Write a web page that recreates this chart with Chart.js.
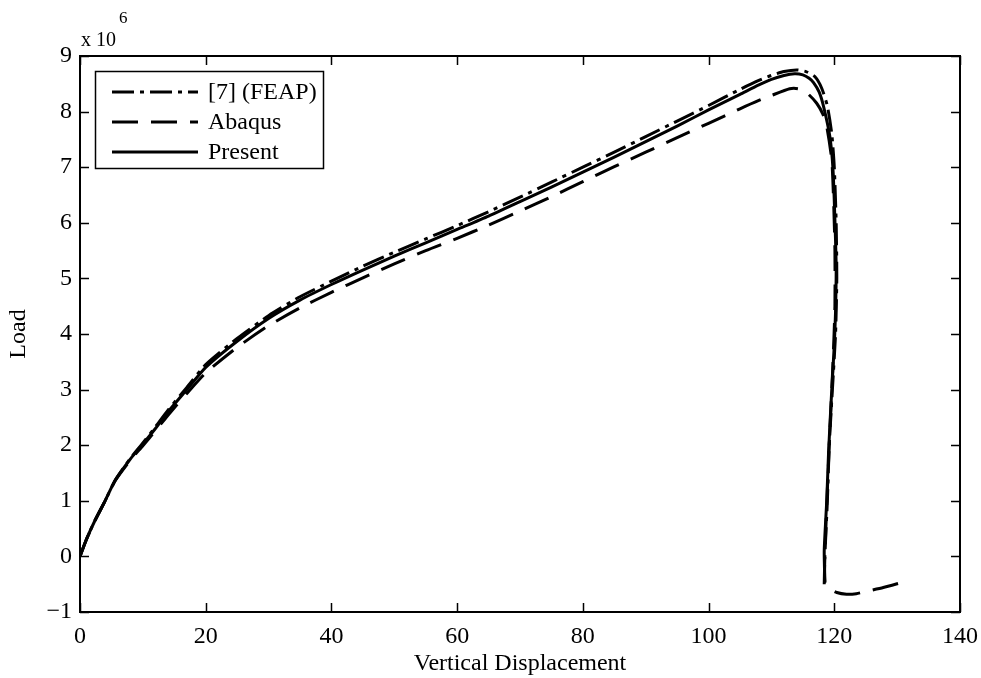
<!DOCTYPE html>
<html lang="en">
<head>
    <script src="https://cdn.jsdelivr.net/npm/chart.js@4.4.0/dist/chart.umd.min.js"></script>
    <style>
        html, body { margin: 0; padding: 0; background: #fff; }
        #canvas-container { position: relative; width: 981px; height: 678px; }
    </style>
</head>
<body>

<div id="canvas-container">
    <canvas id="load-chart" width="981" height="678"></canvas>
</div>

<script>
    // values (load in units of 10^6)
    const seriesLabels = ["[7] (FEAP)", "Abaqus", "Present"];

    const feapDisp = [0, 1, 2.4, 4, 5.6, 8, 10, 12, 14, 17, 20, 25, 30, 35, 40, 45, 50, 55, 60, 65, 70, 75, 80, 85, 90, 95, 100, 105, 108, 110, 112, 114, 115.5, 116.9, 118.0, 118.9, 119.6, 120.0, 120.3, 120.4, 120.2, 119.7, 119.2, 118.9, 118.5, 118.4];
    const feapLoad = [0, 0.3, 0.65, 1.0, 1.37, 1.76, 2.04, 2.33, 2.63, 3.04, 3.45, 3.92, 4.33, 4.67, 4.95, 5.22, 5.47, 5.71, 5.95, 6.2, 6.46, 6.73, 7.0, 7.27, 7.55, 7.83, 8.11, 8.4, 8.56, 8.65, 8.72, 8.75, 8.72, 8.63, 8.42, 8.1, 7.6, 7.0, 6.0, 5.0, 4.0, 3.0, 2.0, 1.0, 0.0, -0.5];

    const abaqusDisp = [0, 1, 2.4, 4, 5.6, 8, 10, 12, 14, 17, 20, 25, 30, 35, 40, 45, 50, 55, 60, 65, 70, 75, 80, 85, 90, 95, 100, 105, 108, 110, 112.9, 114.3, 115.8, 117.2, 118.2, 118.8, 119.6, 119.9, 120.1, 120.1, 119.8, 119.4, 118.9, 118.5, 118.5, 119.2, 120.4, 121.95, 123.5, 125.1, 127.8, 130.7];
    const abaqusLoad = [0, 0.3, 0.65, 1.0, 1.36, 1.73, 1.99, 2.26, 2.54, 2.93, 3.3, 3.76, 4.15, 4.47, 4.75, 5.01, 5.26, 5.5, 5.72, 5.96, 6.21, 6.47, 6.74, 7.01, 7.27, 7.53, 7.79, 8.05, 8.2, 8.29, 8.41, 8.41, 8.32, 8.15, 7.95, 7.73, 7.13, 6.36, 5.5, 4.5, 3.5, 2.5, 1.2, 0.0, -0.45, -0.58, -0.65, -0.68, -0.67, -0.63, -0.56, -0.47];

    const presentDisp = [0, 1, 2.4, 4, 5.6, 8, 10, 12, 14, 17, 20, 25, 30, 35, 40, 45, 50, 55, 60, 65, 70, 75, 80, 85, 90, 95, 100, 105, 108, 110, 112, 113.7, 115, 116.0, 116.7, 117.6, 118.3, 119.3, 119.8, 120.1, 120.3, 120.2, 120.0, 119.6, 119.1, 118.8, 118.4, 118.5];
    const presentLoad = [0, 0.3, 0.65, 1.0, 1.37, 1.75, 2.02, 2.3, 2.6, 3.0, 3.4, 3.87, 4.28, 4.61, 4.89, 5.15, 5.4, 5.64, 5.88, 6.12, 6.38, 6.64, 6.91, 7.18, 7.46, 7.74, 8.03, 8.31, 8.48, 8.58, 8.65, 8.68, 8.66, 8.6, 8.52, 8.35, 8.09, 7.55, 6.95, 6.05, 5.2, 4.4, 3.8, 3.0, 1.9, 1.0, 0.1, -0.45];

    const xTicks = [0, 20, 40, 60, 80, 100, 120, 140];
    const yTicks = [-1, 0, 1, 2, 3, 4, 5, 6, 7, 8, 9];

    const serif = "'Liberation Serif', 'Times New Roman', serif";

    function toPoints(xs, ys) {
        return xs.map((v, i) => ({x: v, y: ys[i]}));
    }

    // box, inward ticks, legend and the x 10^6 exponent
    const framePlugin = {
        id: 'frame',
        afterDatasetsDraw(chart) {
            const {ctx, chartArea: a, scales} = chart;
            const sx = scales.x, sy = scales.y;
            ctx.save();
            ctx.strokeStyle = '#000';
            ctx.lineWidth = 1.5;
            ctx.beginPath();
            xTicks.forEach(v => {
                const px = Math.round(sx.getPixelForValue(v)) + 0.5;
                ctx.moveTo(px, a.bottom); ctx.lineTo(px, a.bottom - 9);
                ctx.moveTo(px, a.top); ctx.lineTo(px, a.top + 9);
            });
            yTicks.forEach(v => {
                const py = Math.round(sy.getPixelForValue(v)) + 0.5;
                ctx.moveTo(a.left, py); ctx.lineTo(a.left + 9, py);
                ctx.moveTo(a.right, py); ctx.lineTo(a.right - 9, py);
            });
            ctx.stroke();

            ctx.lineWidth = 2;
            ctx.strokeRect(a.left, a.top, a.right - a.left, a.bottom - a.top);

            // legend
            const lx = 95, ly = 71, lw = 228, lh = 97;
            ctx.fillStyle = '#fff';
            ctx.fillRect(lx, ly, lw, lh);
            ctx.lineWidth = 1.5;
            ctx.strokeRect(lx + 0.5, ly + 0.5, lw, lh);
            chart.data.datasets.forEach((ds, i) => {
                const yy = ly + 21 + i * 30;
                ctx.beginPath();
                ctx.lineWidth = ds.borderWidth;
                ctx.setLineDash(ds.borderDash || []);
                ctx.moveTo(112, yy); ctx.lineTo(198, yy);
                ctx.stroke();
                ctx.setLineDash([]);
                ctx.fillStyle = '#000';
                ctx.font = "24px " + serif;
                ctx.textBaseline = 'middle';
                ctx.textAlign = 'left';
                ctx.fillText(ds.label, 208, yy + 1);
            });

            // exponent label
            ctx.fillStyle = '#000';
            ctx.textBaseline = 'alphabetic';
            ctx.font = "20px " + serif;
            ctx.fillText('x 10', 81, 46);
            ctx.font = "17px " + serif;
            ctx.fillText('6', 119, 23);
            ctx.restore();
        }
    };

    function draw() {
        const ctx = document.getElementById('load-chart').getContext('2d');

        new Chart(ctx, {
            type: 'scatter',
            data: {
                datasets: [
                    {
                        label: seriesLabels[0],
                        data: toPoints(feapDisp, feapLoad),
                        borderColor: '#000',
                        borderWidth: 3,
                        borderDash: [22, 6, 4, 6]
                    },
                    {
                        label: seriesLabels[1],
                        data: toPoints(abaqusDisp, abaqusLoad),
                        borderColor: '#000',
                        borderWidth: 3,
                        borderDash: [26, 13]
                    },
                    {
                        label: seriesLabels[2],
                        data: toPoints(presentDisp, presentLoad),
                        borderColor: '#000',
                        borderWidth: 3
                    }
                ].map(d => Object.assign(d, {showLine: true, pointRadius: 0, tension: 0.2, fill: false}))
            },
            options: {
                responsive: false,
                animation: false,
                layout: {padding: {top: 56, right: 21, left: 0, bottom: 0}},
                plugins: {
                    legend: {display: false},
                    tooltip: {enabled: false}
                },
                scales: {
                    x: {
                        type: 'linear',
                        min: 0,
                        max: 140,
                        afterBuildTicks: s => { s.ticks = xTicks.map(v => ({value: v})); },
                        afterFit: s => { s.height = 66; s.paddingLeft = 0; s.paddingRight = 0; },
                        grid: {display: false, drawTicks: false},
                        border: {display: false},
                        ticks: {color: '#000', font: {family: serif, size: 24}, padding: 10, maxRotation: 0},
                        title: {display: true, text: 'Vertical Displacement', color: '#000', font: {family: serif, size: 24}, padding: {top: 0, bottom: 0}}
                    },
                    y: {
                        type: 'linear',
                        min: -1,
                        max: 9,
                        afterBuildTicks: s => { s.ticks = yTicks.map(v => ({value: v})); },
                        afterFit: s => { s.width = 80; s.paddingTop = 0; s.paddingBottom = 0; },
                        grid: {display: false, drawTicks: false},
                        border: {display: false},
                        ticks: {
                            color: '#000',
                            font: {family: serif, size: 24},
                            padding: 8,
                            callback: v => v < 0 ? '\u2212' + Math.abs(v) : String(v)
                        },
                        title: {display: true, text: 'Load', color: '#000', font: {family: serif, size: 24}, padding: {top: 4, bottom: 0}}
                    }
                }
            },
            plugins: [framePlugin]
        });
    }

    draw();
</script>

</body>
</html>
